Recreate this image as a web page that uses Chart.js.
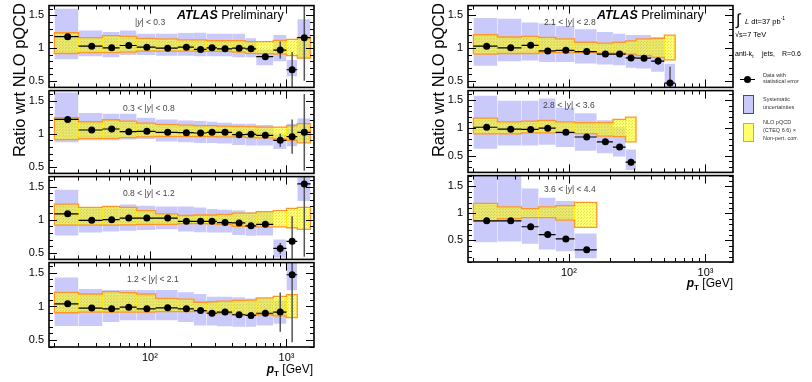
<!DOCTYPE html>
<html><head><meta charset="utf-8">
<script src="https://cdn.jsdelivr.net/npm/chart.js@4.4.1/dist/chart.umd.min.js"></script>
<style>
body{margin:0;background:#fff;width:812px;height:382px;overflow:hidden;position:relative;font-family:"Liberation Sans",Arial,sans-serif;}
canvas{position:absolute;}
.t{position:absolute;white-space:nowrap;color:#000;line-height:1;}
</style></head><body>
<script>
// ---------- DATA ----------
const edges = [20,30,45,60,80,110,160,210,260,310,400,500,600,800,1000,1200,1500];
const xTickValues = [100, 1000];
const xTickLabels = ['10\u00B2', '10\u00B3'];
const yTickValues = [0.5, 1, 1.5];
const panelLabels = ['|y| < 0.3','0.3 < |y| < 0.8','0.8 < |y| < 1.2','1.2 < |y| < 2.1','2.1 < |y| < 2.8','2.8 < |y| < 3.6','3.6 < |y| < 4.4'];

// |y| < 0.3
const p1Ratio = [1.175,1.03,1.005,1.04,1.015,1.0,1.015,0.98,1.005,0.99,1.0,0.99,0.87,0.97,0.67,1.16];
const p1Stat  = [0.01,0.01,0.01,0.01,0.01,0.01,0.01,0.01,0.01,0.01,0.015,0.02,0.03,0.13,0.27,0.66];
const p1SysLo = [0.83,0.875,0.86,0.895,0.895,0.885,0.885,0.875,0.875,0.875,0.86,0.86,0.74,0.80,0.57,0.84];
const p1SysHi = [1.60,1.27,1.245,1.27,1.22,1.22,1.23,1.235,1.22,1.22,1.22,1.15,0.98,1.20,0.82,1.44];
const p1NloLo = [0.918,0.93,0.93,0.94,0.955,0.955,0.955,0.95,0.95,0.95,0.94,0.92,0.915,0.91,0.885,0.846];
const p1NloHi = [1.235,1.16,1.19,1.18,1.15,1.14,1.125,1.125,1.115,1.115,1.115,1.10,1.10,1.12,1.135,1.165];

// 0.3 < |y| < 0.8
const p2Ratio = [1.215,1.055,1.07,1.03,1.035,1.02,1.015,1.01,1.02,1.02,0.985,0.99,0.975,0.90,0.955,1.02];
const p2Stat  = [0.01,0.01,0.01,0.01,0.01,0.01,0.01,0.01,0.01,0.01,0.015,0.02,0.03,0.10,0.26,0.58];
const p2SysLo = [0.87,0.90,0.90,0.91,0.92,0.88,0.87,0.86,0.86,0.85,0.83,0.82,0.82,0.77,0.81,0.87];
const p2SysHi = [1.62,1.31,1.30,1.30,1.24,1.215,1.20,1.19,1.18,1.165,1.15,1.15,1.13,0.99,1.15,1.23];
const p2NloLo = [0.91,0.93,0.93,0.94,0.95,0.955,0.955,0.955,0.955,0.95,0.95,0.94,0.935,0.92,0.90,0.86];
const p2NloHi = [1.24,1.18,1.21,1.19,1.16,1.14,1.13,1.12,1.12,1.115,1.11,1.105,1.10,1.10,1.12,1.15];

// 0.8 < |y| < 1.2
const p3Ratio = [1.088,0.99,1.0,1.024,1.024,1.024,0.975,0.975,0.975,0.956,0.95,0.907,0.93,0.566,0.673,1.54];
const p3Stat  = [0.01,0.01,0.01,0.01,0.01,0.01,0.01,0.01,0.01,0.01,0.015,0.02,0.025,0.08,0.38,1.1];
const p3SysLo = [0.76,0.805,0.82,0.834,0.844,0.854,0.82,0.81,0.805,0.805,0.77,0.756,0.76,0.43,null,1.28];
const p3SysHi = [1.45,1.185,1.185,1.23,1.21,1.20,1.20,1.185,1.16,1.15,1.137,1.11,1.11,0.70,null,1.80];
const p3NloLo = [0.917,0.917,0.917,0.92,0.93,0.93,0.94,0.94,0.935,0.93,0.90,0.90,0.89,0.89,0.878,0.854];
const p3NloHi = [1.234,1.185,1.20,1.185,1.137,1.088,1.063,1.07,1.07,1.08,1.10,1.10,1.12,1.137,1.17,1.185];

// 1.2 < |y| < 2.1
const p4Ratio = [1.04,0.976,0.966,0.99,0.966,0.98,0.966,0.94,0.90,0.917,0.878,0.868,0.90,0.917,1.47];
const p4Stat  = [0.01,0.01,0.01,0.01,0.01,0.01,0.01,0.01,0.01,0.01,0.015,0.02,0.05,0.29,1.0];
const p4SysLo = [0.712,0.712,0.77,0.795,0.795,0.795,0.77,0.72,0.72,0.707,0.70,0.70,0.72,0.746,1.24];
const p4SysHi = [1.43,1.26,1.244,1.244,1.244,1.244,1.21,1.185,1.146,1.146,1.137,1.12,1.12,1.088,1.80];
const p4NloLo = [0.907,0.917,0.917,0.917,0.917,0.925,0.925,0.93,0.917,0.893,0.878,0.878,0.878,0.86,0.834];
const p4NloHi = [1.21,1.185,1.22,1.205,1.185,1.12,1.11,1.063,1.07,1.08,1.09,1.095,1.127,1.15,1.175];

// 2.1 < |y| < 2.8
const p5Ratio = [1.03,1.005,1.043,0.957,0.966,0.947,0.909,0.909,0.85,0.846,0.803,0.466];
const p5Stat  = [0.01,0.01,0.01,0.01,0.01,0.01,0.01,0.01,0.015,0.02,0.06,0.25];
const p5SysLo = [0.73,0.80,0.81,0.79,0.79,0.765,0.75,0.74,0.70,0.69,0.64,0.20];
const p5SysHi = [1.46,1.45,1.39,1.375,1.34,1.29,1.245,1.22,1.20,1.20,1.17,0.76];
const p5NloLo = [0.909,0.918,0.918,0.933,0.933,0.933,0.925,0.925,0.909,0.885,0.86,0.82];
const p5NloHi = [1.207,1.17,1.18,1.163,1.14,1.09,1.077,1.09,1.11,1.14,1.15,1.20];

// 2.8 < |y| < 3.6
const p6Ratio = [1.011,0.977,0.972,0.994,0.92,0.836,0.75,0.655,0.384];
const p6Stat  = [0.01,0.01,0.01,0.01,0.01,0.015,0.02,0.02,0.06];
const p6SysLo = [0.627,0.684,0.684,0.695,0.655,0.588,0.542,0.486,0.243];
const p6SysHi = [1.576,1.486,1.486,1.53,1.36,1.265,1.136,1.011,0.61];
const p6NloLo = [0.893,0.893,0.91,0.91,0.91,0.898,0.853,0.842,0.75];
const p6NloHi = [1.175,1.107,1.12,1.136,1.107,1.096,1.096,1.153,1.192];

// 3.6 < |y| < 4.4
const p7Ratio = [0.863,0.863,0.753,0.607,0.528,0.326];
const p7Stat  = [0.01,0.01,0.01,0.015,0.02,0.02];
const p7SysLo = [0.466,0.478,0.436,0.33,0.30,0.17];
const p7SysHi = [1.80,1.80,1.46,1.29,1.23,0.63];
const p7NloLo = [0.863,0.905,0.923,0.923,0.876,0.74];
const p7NloHi = [1.187,1.12,1.09,1.12,1.145,1.205];

// ---------- LAYOUT ----------
const XMIN = 18.25, XMAX = 1590;
const LM = 34, PAD = 10;
const panels = [
  {r:p1Ratio,e:p1Stat,sl:p1SysLo,sh:p1SysHi,nl:p1NloLo,nh:p1NloHi,x0:49,x1:314,y0:4,y1:89,ymin:0.4,ymax:1.65,bottom:false},
  {r:p2Ratio,e:p2Stat,sl:p2SysLo,sh:p2SysHi,nl:p2NloLo,nh:p2NloHi,x0:49,x1:314,y0:89,y1:175,ymin:0.4,ymax:1.65,bottom:false},
  {r:p3Ratio,e:p3Stat,sl:p3SysLo,sh:p3SysHi,nl:p3NloLo,nh:p3NloHi,x0:49,x1:314,y0:175,y1:261,ymin:0.4,ymax:1.65,bottom:false},
  {r:p4Ratio,e:p4Stat,sl:p4SysLo,sh:p4SysHi,nl:p4NloLo,nh:p4NloHi,x0:49,x1:314,y0:261,y1:347,ymin:0.4,ymax:1.65,bottom:true},
  {r:p5Ratio,e:p5Stat,sl:p5SysLo,sh:p5SysHi,nl:p5NloLo,nh:p5NloHi,x0:468,x1:733,y0:4,y1:89,ymin:0.4,ymax:1.65,bottom:false},
  {r:p6Ratio,e:p6Stat,sl:p6SysLo,sh:p6SysHi,nl:p6NloLo,nh:p6NloHi,x0:468,x1:733,y0:89,y1:174,ymin:0.2,ymax:1.67,bottom:false},
  {r:p7Ratio,e:p7Stat,sl:p7SysLo,sh:p7SysHi,nl:p7NloLo,nh:p7NloHi,x0:468,x1:733,y0:174,y1:262,ymin:0.1,ymax:1.7,bottom:true}
];

const BLUE = 'rgb(202,202,250)';
const ORANGE = 'rgb(255,150,40)';
Chart.defaults.font.family = "'Liberation Sans', Arial, sans-serif";

// dotted yellow fill like the ROOT hatch
function makeYellow() {
  const c = document.createElement('canvas');
  c.width = 3; c.height = 3;
  const g = c.getContext('2d');
  g.fillStyle = 'rgba(255,255,0,0.55)';
  g.fillRect(0, 0, 3, 3);
  g.fillStyle = 'rgba(190,170,0,0.35)';
  g.fillRect(0, 0, 1, 1);
  g.fillRect(1, 2, 1, 1);
  return g.createPattern(c, 'repeat');
}
const YELLOW = makeYellow();

const framePlugin = {
  id: 'frame',
  afterDatasetsDraw(chart) {
    const {ctx, chartArea: a, scales: {x, y}} = chart;
    ctx.save();
    ctx.strokeStyle = '#000';
    ctx.lineWidth = 1;
    ctx.beginPath();
    for (let k = Math.ceil(y.min * 10 - 1e-6); k <= Math.floor(y.max * 10 + 1e-6); k++) {
      const py = Math.round(y.getPixelForValue(k / 10)) + 0.5;
      const L = (k % 5 === 0) ? 8 : 4;
      ctx.moveTo(a.left, py); ctx.lineTo(a.left + L, py);
      ctx.moveTo(a.right, py); ctx.lineTo(a.right - L, py);
    }
    for (let dec = 10; dec <= 1000; dec *= 10) {
      for (let d = 1; d <= 9; d++) {
        const v = d * dec;
        if (v < x.min || v > x.max) continue;
        const px = Math.round(x.getPixelForValue(v)) + 0.5;
        const L = d === 1 ? 8 : 4;
        ctx.moveTo(px, a.bottom); ctx.lineTo(px, a.bottom - L);
        ctx.moveTo(px, a.top); ctx.lineTo(px, a.top + L);
      }
    }
    ctx.stroke();
    ctx.lineWidth = 1.6;
    ctx.strokeRect(a.left, a.top, a.right - a.left, a.bottom - a.top);
    ctx.restore();
  }
};

function rectSets(lo, hi, color, order) {
  const sets = [];
  for (let i = 0; i < lo.length; i++) {
    if (lo[i] == null || hi[i] == null) continue;
    sets.push({type: 'line', data: [{x: edges[i], y: hi[i]}, {x: edges[i + 1], y: hi[i]}],
      fill: {value: lo[i]}, backgroundColor: color, borderColor: 'rgba(0,0,0,0)', borderWidth: 0,
      pointRadius: 0, order});
  }
  return sets;
}
function outlinePts(lo, hi) {
  const n = lo.length;
  const pts = [{x: edges[0], y: lo[0]}, {x: edges[0], y: hi[0]}];
  for (let i = 0; i < n; i++) {
    pts.push({x: edges[i + 1], y: hi[i]});
    if (i < n - 1) pts.push({x: edges[i + 1], y: hi[i + 1]});
  }
  pts.push({x: edges[n], y: lo[n - 1]});
  for (let i = n - 1; i >= 0; i--) {
    pts.push({x: edges[i], y: lo[i]});
    if (i > 0) pts.push({x: edges[i], y: lo[i - 1]});
  }
  return pts;
}
function sepPts(lo, hi) {
  const pts = [];
  for (let i = 1; i < lo.length; i++) {
    pts.push({x: edges[i], y: Math.max(lo[i - 1], lo[i])});
    pts.push({x: edges[i], y: Math.min(hi[i - 1], hi[i])});
    pts.push({x: edges[i], y: null});
  }
  return pts;
}

panels.forEach((p) => {
  const BM = p.bottom ? 30 : 0;
  const cv = document.createElement('canvas');
  const w = (p.x1 - p.x0) + LM + 2 * PAD;
  const h = (p.y1 - p.y0) + BM + 2 * PAD;
  cv.width = w; cv.height = h;
  cv.style.left = (p.x0 - LM - PAD) + 'px';
  cv.style.top = (p.y0 - PAD) + 'px';
  cv.style.width = w + 'px'; cv.style.height = h + 'px';
  document.body.appendChild(cv);

  const n = p.r.length;
  const pts = [], hb = [], vb = [];
  for (let i = 0; i < n; i++) {
    const c = (edges[i] + edges[i + 1]) / 2;
    pts.push({x: c, y: p.r[i]});
    hb.push({x: edges[i], y: p.r[i]}, {x: edges[i + 1], y: p.r[i]}, {x: edges[i + 1], y: null});
    vb.push({x: c, y: p.r[i] - p.e[i]}, {x: c, y: p.r[i] + p.e[i]}, {x: c, y: null});
  }
  const datasets = [
    {type: 'scatter', data: pts, pointRadius: 3.5, pointBackgroundColor: '#000', pointBorderWidth: 0, order: 0},
    {type: 'line', data: hb, borderColor: '#000', borderWidth: 1.2, pointRadius: 0, fill: false, order: 1},
    {type: 'line', data: vb, borderColor: '#555', borderWidth: 1.5, pointRadius: 0, fill: false, order: 1},
    {type: 'line', data: outlinePts(p.nl, p.nh), borderColor: ORANGE, borderWidth: 1.3, pointRadius: 0, fill: false, order: 2},
    {type: 'line', data: sepPts(p.nl, p.nh), borderColor: 'rgba(255,235,0,0.9)', borderWidth: 1, pointRadius: 0, fill: false, order: 3},
    ...rectSets(p.nl, p.nh, YELLOW, 4),
    ...rectSets(p.sl, p.sh, BLUE, 5)
  ];

  new Chart(cv, {
    type: 'line',
    data: {datasets},
    options: {
      responsive: false, animation: false, devicePixelRatio: 1, events: [],
      layout: {padding: PAD},
      plugins: {legend: {display: false}, tooltip: {enabled: false}},
      scales: {
        x: {type: 'logarithmic', min: XMIN, max: XMAX,
          grid: {display: false, drawTicks: false}, border: {display: false},
          ticks: {display: p.bottom, autoSkip: false, maxRotation: 0, padding: 4,
            font: {size: 11}, color: '#000',
            callback: (v) => { const k = xTickValues.indexOf(v); return k >= 0 ? xTickLabels[k] : ''; }},
          afterBuildTicks: (s) => { s.ticks = xTickValues.map(v => ({value: v})); },
          afterFit: (s) => { s.height = BM; }},
        y: {type: 'linear', min: p.ymin, max: p.ymax,
          grid: {display: false, drawTicks: false}, border: {display: false},
          ticks: {padding: 5, font: {size: 11}, color: '#000', callback: (v) => String(v)},
          afterBuildTicks: (s) => { s.ticks = yTickValues.filter(v => v >= p.ymin && v <= p.ymax).map(v => ({value: v})); },
          afterFit: (s) => { s.width = LM; }}
      }
    },
    plugins: [framePlugin]
  });
});

// ---------- TEXT ----------
function txt(html, x, yc, fs, opts = {}) {
  const d = document.createElement('div');
  d.className = 't';
  d.innerHTML = html;
  d.style.fontSize = fs + 'px';
  d.style.top = (yc - 0.49 * fs) + 'px';
  if (opts.right) d.style.right = (812 - x) + 'px'; else d.style.left = x + 'px';
  if (opts.color) d.style.color = opts.color;
  document.body.appendChild(d);
  return d;
}
function ytitle(cx) {
  const d = document.createElement('div');
  d.className = 't';
  d.textContent = 'Ratio wrt NLO pQCD';
  Object.assign(d.style, {width: '200px', textAlign: 'right', lineHeight: '20px', fontSize: '16.5px',
    left: (cx - 100) + 'px', top: (103 - 10) + 'px', transform: 'rotate(-90deg)'});
  document.body.appendChild(d);
}
ytitle(18.5); ytitle(438);

const labelPos = [[135,22],[123,108],[123,193],[127,279],[544,22],[543,105],[544,189]];
panelLabels.forEach((s, i) => {
  txt(s.replace('y', '<i>y</i>'), labelPos[i][0], labelPos[i][1], 8.5, {color: '#444'});
});
txt('<b><i>ATLAS</i></b> Preliminary', 177, 15, 12.5);
txt('<b><i>ATLAS</i></b> Preliminary', 597, 15, 12.5);
txt('<b><i>p</i><sub style="font-size:8px">T</sub></b> [GeV]', 313, 369, 12, {right: true});
txt('<b><i>p</i><sub style="font-size:8px">T</sub></b> [GeV]', 733, 283, 12, {right: true});

// legend
txt('\u222B', 736, 20, 16);
txt('<i>L</i> dt=37 pb<sup style="font-size:5px">-1</sup>', 745, 20, 7.5);
txt('\u221As=7 TeV', 735, 35, 7.5);
txt('anti-k<sub style="font-size:5px">t</sub>', 735, 53, 7);
txt('jets,', 762, 53, 7);
txt('R=0.6', 782, 53, 7);
const lg = (css) => { const d = document.createElement('div'); d.style.position = 'absolute'; Object.assign(d.style, css); document.body.appendChild(d); };
lg({left: '740px', top: '78.5px', width: '15px', height: '1.2px', background: '#000'});
lg({left: '744px', top: '76px', width: '7px', height: '7px', borderRadius: '50%', background: '#000'});
txt('Data with', 763, 76, 5.5, {color: '#333'});
txt('statistical error', 763, 82, 5.5, {color: '#333'});
lg({left: '743px', top: '95px', width: '9px', height: '17px', background: BLUE, border: '1px solid #4a4a6a'});
txt('Systematic', 763, 100, 5.5, {color: '#333'});
txt('uncertainties', 763, 108, 5.5, {color: '#333'});
lg({left: '743px', top: '123px', width: '9px', height: '17px', background: 'rgb(255,255,110)', border: '1.5px solid ' + ORANGE});
txt('NLO pQCD', 763, 123, 5.5, {color: '#333'});
txt('(CTEQ 6.6) \u00D7', 763, 131, 5.5, {color: '#333'});
txt('Non-pert. corr.', 763, 139, 5.5, {color: '#333'});
</script>
</body></html>
